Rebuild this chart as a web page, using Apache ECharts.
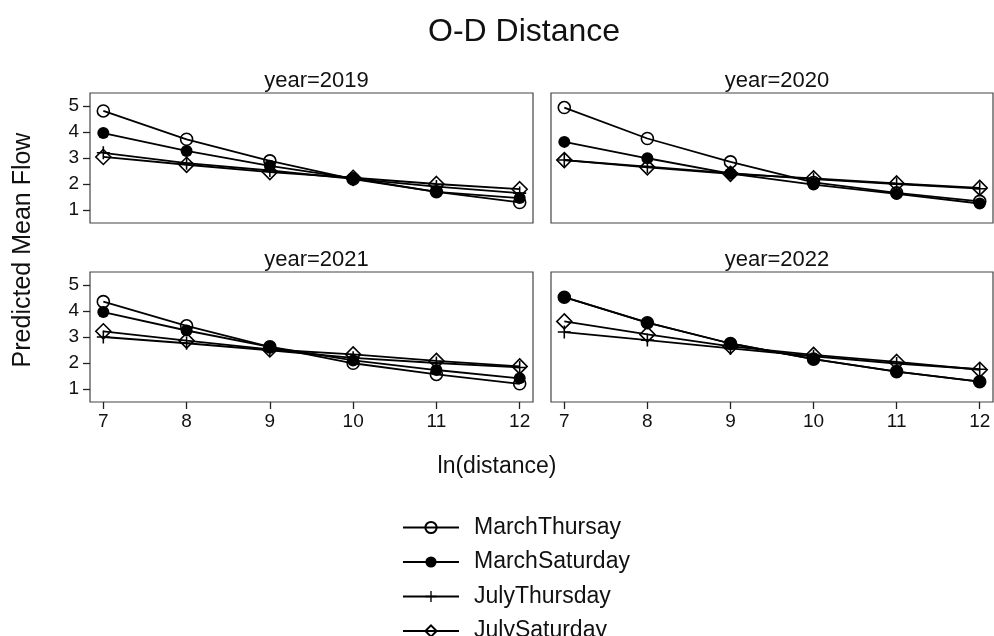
<!DOCTYPE html>
<html>
<head>
<meta charset="utf-8">
<script src="https://cdn.jsdelivr.net/npm/echarts@6/dist/echarts.min.js"></script>
<style>html,body{margin:0;padding:0;background:#fff}#c{width:994px;height:636px}</style>
</head>
<body>
<div id="c"></div>
<script>
const xValues = [7, 8, 9, 10, 11, 12];
const years = ['year=2019', 'year=2020', 'year=2021', 'year=2022'];
const seriesNames = ['MarchThursay', 'MarchSaturday', 'JulyThursday', 'JulySaturday'];
const yTicks = [1, 2, 3, 4, 5];

// 2019
const marchThu2019 = [4.81, 3.72, 2.89, 2.19, 1.70, 1.29];
const marchSat2019 = [3.96, 3.27, 2.70, 2.22, 1.70, 1.46];
const julyThu2019  = [3.20, 2.80, 2.52, 2.20, 1.90, 1.65];
const julySat2019  = [3.04, 2.74, 2.46, 2.24, 2.00, 1.80];
// 2020
const marchThu2020 = [4.94, 3.75, 2.85, 2.06, 1.66, 1.33];
const marchSat2020 = [3.62, 2.99, 2.40, 1.98, 1.62, 1.25];
const julyThu2020  = [2.92, 2.67, 2.42, 2.19, 2.00, 1.82];
const julySat2020  = [2.92, 2.64, 2.39, 2.22, 2.02, 1.85];
// 2021
const marchThu2021 = [4.36, 3.43, 2.62, 1.99, 1.56, 1.20];
const marchSat2021 = [3.96, 3.25, 2.62, 2.10, 1.73, 1.41];
const julyThu2021  = [3.00, 2.76, 2.49, 2.20, 2.00, 1.83];
const julySat2021  = [3.22, 2.86, 2.52, 2.33, 2.08, 1.87];
// 2022
const marchThu2022 = [4.53, 3.55, 2.75, 2.15, 1.67, 1.28];
const marchSat2022 = [4.53, 3.55, 2.75, 2.15, 1.67, 1.28];
const julyThu2022  = [3.19, 2.88, 2.56, 2.26, 1.98, 1.76];
const julySat2022  = [3.60, 3.10, 2.64, 2.31, 2.04, 1.74];

const panelData = [
  [marchThu2019, marchSat2019, julyThu2019, julySat2019],
  [marchThu2020, marchSat2020, julyThu2020, julySat2020],
  [marchThu2021, marchSat2021, julyThu2021, julySat2021],
  [marchThu2022, marchSat2022, julyThu2022, julySat2022]
];

const FONT = 'Liberation Sans';
const grids = [
  {left: 90, top: 93, width: 443, height: 130},
  {left: 551, top: 93, width: 442, height: 130},
  {left: 90, top: 272, width: 443, height: 130},
  {left: 551, top: 272, width: 442, height: 130}
];
const plusPath = 'path://M4.4,0h1.2v4.4h4.4v1.2h-4.4v4.4h-1.2v-4.4h-4.4v-1.2h4.4z';
const symbolDefs = [
  {symbol: 'circle', size: 12, style: {color: 'rgba(255,255,255,0)', borderColor: '#000', borderWidth: 1.6}},
  {symbol: 'circle', size: 12, style: {color: '#000', borderColor: '#000', borderWidth: 0}},
  {symbol: plusPath, size: 13, style: {color: '#000', borderWidth: 0}},
  {symbol: 'diamond', size: 15, style: {color: 'rgba(255,255,255,0)', borderColor: '#000', borderWidth: 1.6}}
];

const titles = [{
  text: 'O-D Distance', left: 423, top: 11,
  textStyle: {fontFamily: FONT, fontSize: 32, fontWeight: 'normal', color: '#111'}
}];
grids.forEach((g, i) => {
  titles.push({
    text: years[i], left: g.left + g.width / 2, top: g.top - 28, textAlign: 'center',
    textStyle: {fontFamily: FONT, fontSize: 22, fontWeight: 'normal', color: '#111'}
  });
});

const xAxes = grids.map((g, i) => {
  const bottomRow = i >= 2;
  return {
    type: 'value', gridIndex: i, min: 6.84, max: 12.16,
    axisLine: {show: false},
    splitLine: {show: false},
    axisTick: {show: bottomRow, customValues: xValues, length: 7, lineStyle: {color: '#222', width: 1.3}},
    axisLabel: {show: bottomRow, customValues: xValues, margin: 10, fontFamily: FONT, fontSize: 19, color: '#111'}
  };
});
const yAxes = grids.map((g, i) => {
  const leftCol = i % 2 === 0;
  return {
    type: 'value', gridIndex: i, min: 0.5, max: 5.5,
    axisLine: {show: false},
    splitLine: {show: false},
    axisTick: {show: leftCol, customValues: yTicks, length: 7, lineStyle: {color: '#222', width: 1.3}},
    axisLabel: {show: leftCol, customValues: yTicks, margin: 11, fontFamily: FONT, fontSize: 19, color: '#111'}
  };
});

const series = [];
panelData.forEach((panel, p) => {
  panel.forEach((vals, s) => {
    const d = symbolDefs[s];
    series.push({
      name: seriesNames[s], type: 'line', xAxisIndex: p, yAxisIndex: p,
      data: xValues.map((x, k) => [x, vals[k]]),
      symbol: d.symbol, symbolSize: d.size, showAllSymbol: true,
      lineStyle: {color: '#000', width: 1.8},
      itemStyle: d.style,
      z: 2 + s, animation: false
    });
  });
});

const legends = seriesNames.map((n, i) => ({
  data: [n], orient: 'vertical', left: 397, top: 523 + i * 34.5 - 7 - 5,
  itemWidth: 56, itemHeight: 14, padding: 5,
  textStyle: {fontFamily: FONT, fontSize: 23, color: '#111', padding: [0, 0, 0, 10]}
}));

const chart = echarts.init(document.getElementById('c'), null, {renderer: 'canvas'});
chart.setOption({
  backgroundColor: '#fff',
  animation: false,
  title: titles,
  grid: grids.map(g => Object.assign({show: true, borderColor: '#444', borderWidth: 1.2, backgroundColor: '#fff'}, g)),
  xAxis: xAxes,
  yAxis: yAxes,
  legend: legends,
  graphic: [
    {type: 'text', x: 23, y: 250, rotation: Math.PI / 2,
     style: {text: 'Predicted Mean Flow', font: '25px "Liberation Sans"', fill: '#111', textAlign: 'center', textVerticalAlign: 'middle'}},
    {type: 'text', x: 497, y: 467,
     style: {text: 'ln(distance)', font: '23px "Liberation Sans"', fill: '#111', textAlign: 'center', textVerticalAlign: 'middle'}}
  ],
  series: series
});
</script>
</body>
</html>
